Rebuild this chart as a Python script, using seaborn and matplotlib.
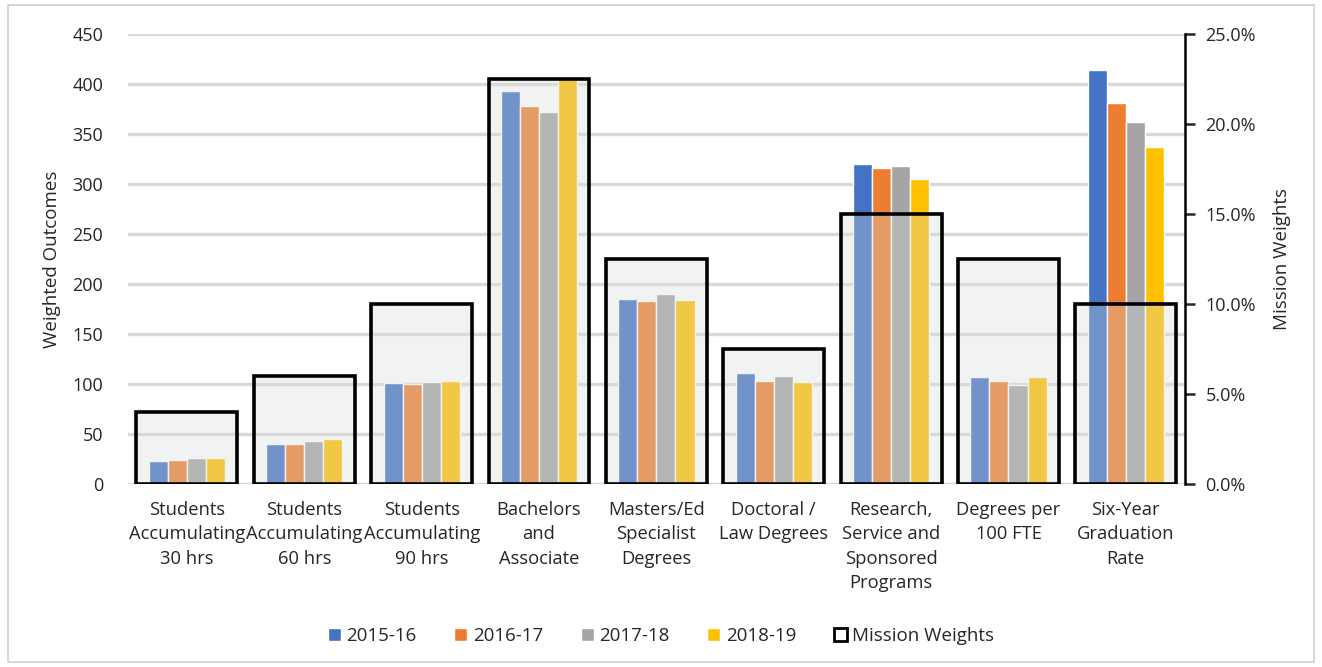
import matplotlib
matplotlib.use("Agg")
import matplotlib.pyplot as plt
import matplotlib.patches as mpatches
from matplotlib.ticker import PercentFormatter
import seaborn as sns
import pandas as pd

# chart data
categories = ["Students\nAccumulating\n30 hrs", "Students\nAccumulating\n60 hrs",
              "Students\nAccumulating\n90 hrs", "Bachelors\nand\nAssociate",
              "Masters/Ed\nSpecialist\nDegrees", "Doctoral /\nLaw Degrees",
              "Research,\nService and\nSponsored\nPrograms", "Degrees per\n100 FTE",
              "Six-Year\nGraduation\nRate"]
years = ["2015-16", "2016-17", "2017-18", "2018-19"]
v2015 = [23, 40, 101, 393, 185, 111, 320, 107, 414]
v2016 = [24, 40, 100, 378, 183, 103, 316, 103, 381]
v2017 = [26, 43, 102, 372, 190, 108, 318, 99, 362]
v2018 = [26, 45, 103, 405, 184, 102, 305, 107, 337]
mission_weights = [4.0, 6.0, 10.0, 22.5, 12.5, 7.5, 15.0, 12.5, 10.0]

colors = ["#4472C4", "#ED7D31", "#A5A5A5", "#FFC000"]

rows = []
for yr, vals in zip(years, [v2015, v2016, v2017, v2018]):
    for c, v in zip(categories, vals):
        rows.append({"category": c, "year": yr, "value": v})
df = pd.DataFrame(rows)
mw = pd.DataFrame({"category": categories, "weight": mission_weights})

sns.set_style("white")
plt.rcParams["font.family"] = ["Open Sans", "DejaVu Sans"]
plt.rcParams["font.size"] = 13

fig = plt.figure(figsize=(13.22, 6.67), dpi=100)
fig.patches.append(mpatches.Rectangle((0.006, 0.008), 0.988, 0.985, transform=fig.transFigure,
                                      fill=False, edgecolor="#d0d0d0", linewidth=1.2))
ax = fig.add_axes([0.097, 0.274, 0.799, 0.675])

sns.barplot(data=df, x="category", y="value", hue="year", palette=colors,
            width=0.65, gap=0, ax=ax, legend=False, saturation=1)
ax.set_ylim(0, 450)
ax.set_yticks(range(0, 451, 50))
ax.yaxis.grid(True, color="#d9d9d9", linewidth=2.4)
ax.set_axisbelow(True)
for s in ["left", "top", "right", "bottom"]:
    ax.spines[s].set_visible(False)
ax.tick_params(axis="y", length=0, pad=18, labelsize=13)
ax.tick_params(axis="x", length=0, pad=12, labelsize=13.2)
for lbl in ax.get_xticklabels():
    lbl.set_linespacing(1.45)
ax.set_xlabel("")
ax.set_ylabel("Weighted Outcomes", fontsize=13.5, labelpad=8)
ax.set_xlim(-0.5, len(categories) - 0.5)

ax2 = ax.twinx()
sns.barplot(data=mw, x="category", y="weight", color="#e4e8e6", width=0.86,
            ax=ax2, saturation=1)
for p in ax2.patches:
    p.set_facecolor((0.84, 0.86, 0.85, 0.32))
    p.set_edgecolor("black")
    p.set_linewidth(2.6)
ax2.set_ylim(0, 25)
ax2.set_yticks(range(0, 26, 5))
ax2.yaxis.set_major_formatter(PercentFormatter(decimals=1))
for s in ["left", "top", "bottom"]:
    ax2.spines[s].set_visible(False)
ax2.spines["right"].set_color("black")
ax2.spines["right"].set_linewidth(1.8)
ax2.tick_params(axis="y", direction="out", length=7, width=1.8, labelsize=13, pad=8)
ax2.set_ylabel("Mission Weights", fontsize=13.5, labelpad=12)
ax2.set_xlim(-0.5, len(categories) - 0.5)

handles = [mpatches.Patch(facecolor=c, label=y) for c, y in zip(colors, years)]
handles.append(mpatches.Patch(facecolor="white", edgecolor="black", linewidth=2, label="Mission Weights"))
fig.legend(handles=handles, loc="center", bbox_to_anchor=(0.5, 0.047), ncol=5, frameon=False,
           fontsize=13.5, handlelength=0.7, handleheight=0.7, handletextpad=0.3, columnspacing=2.0)

fig.savefig("out.png", dpi=100)
